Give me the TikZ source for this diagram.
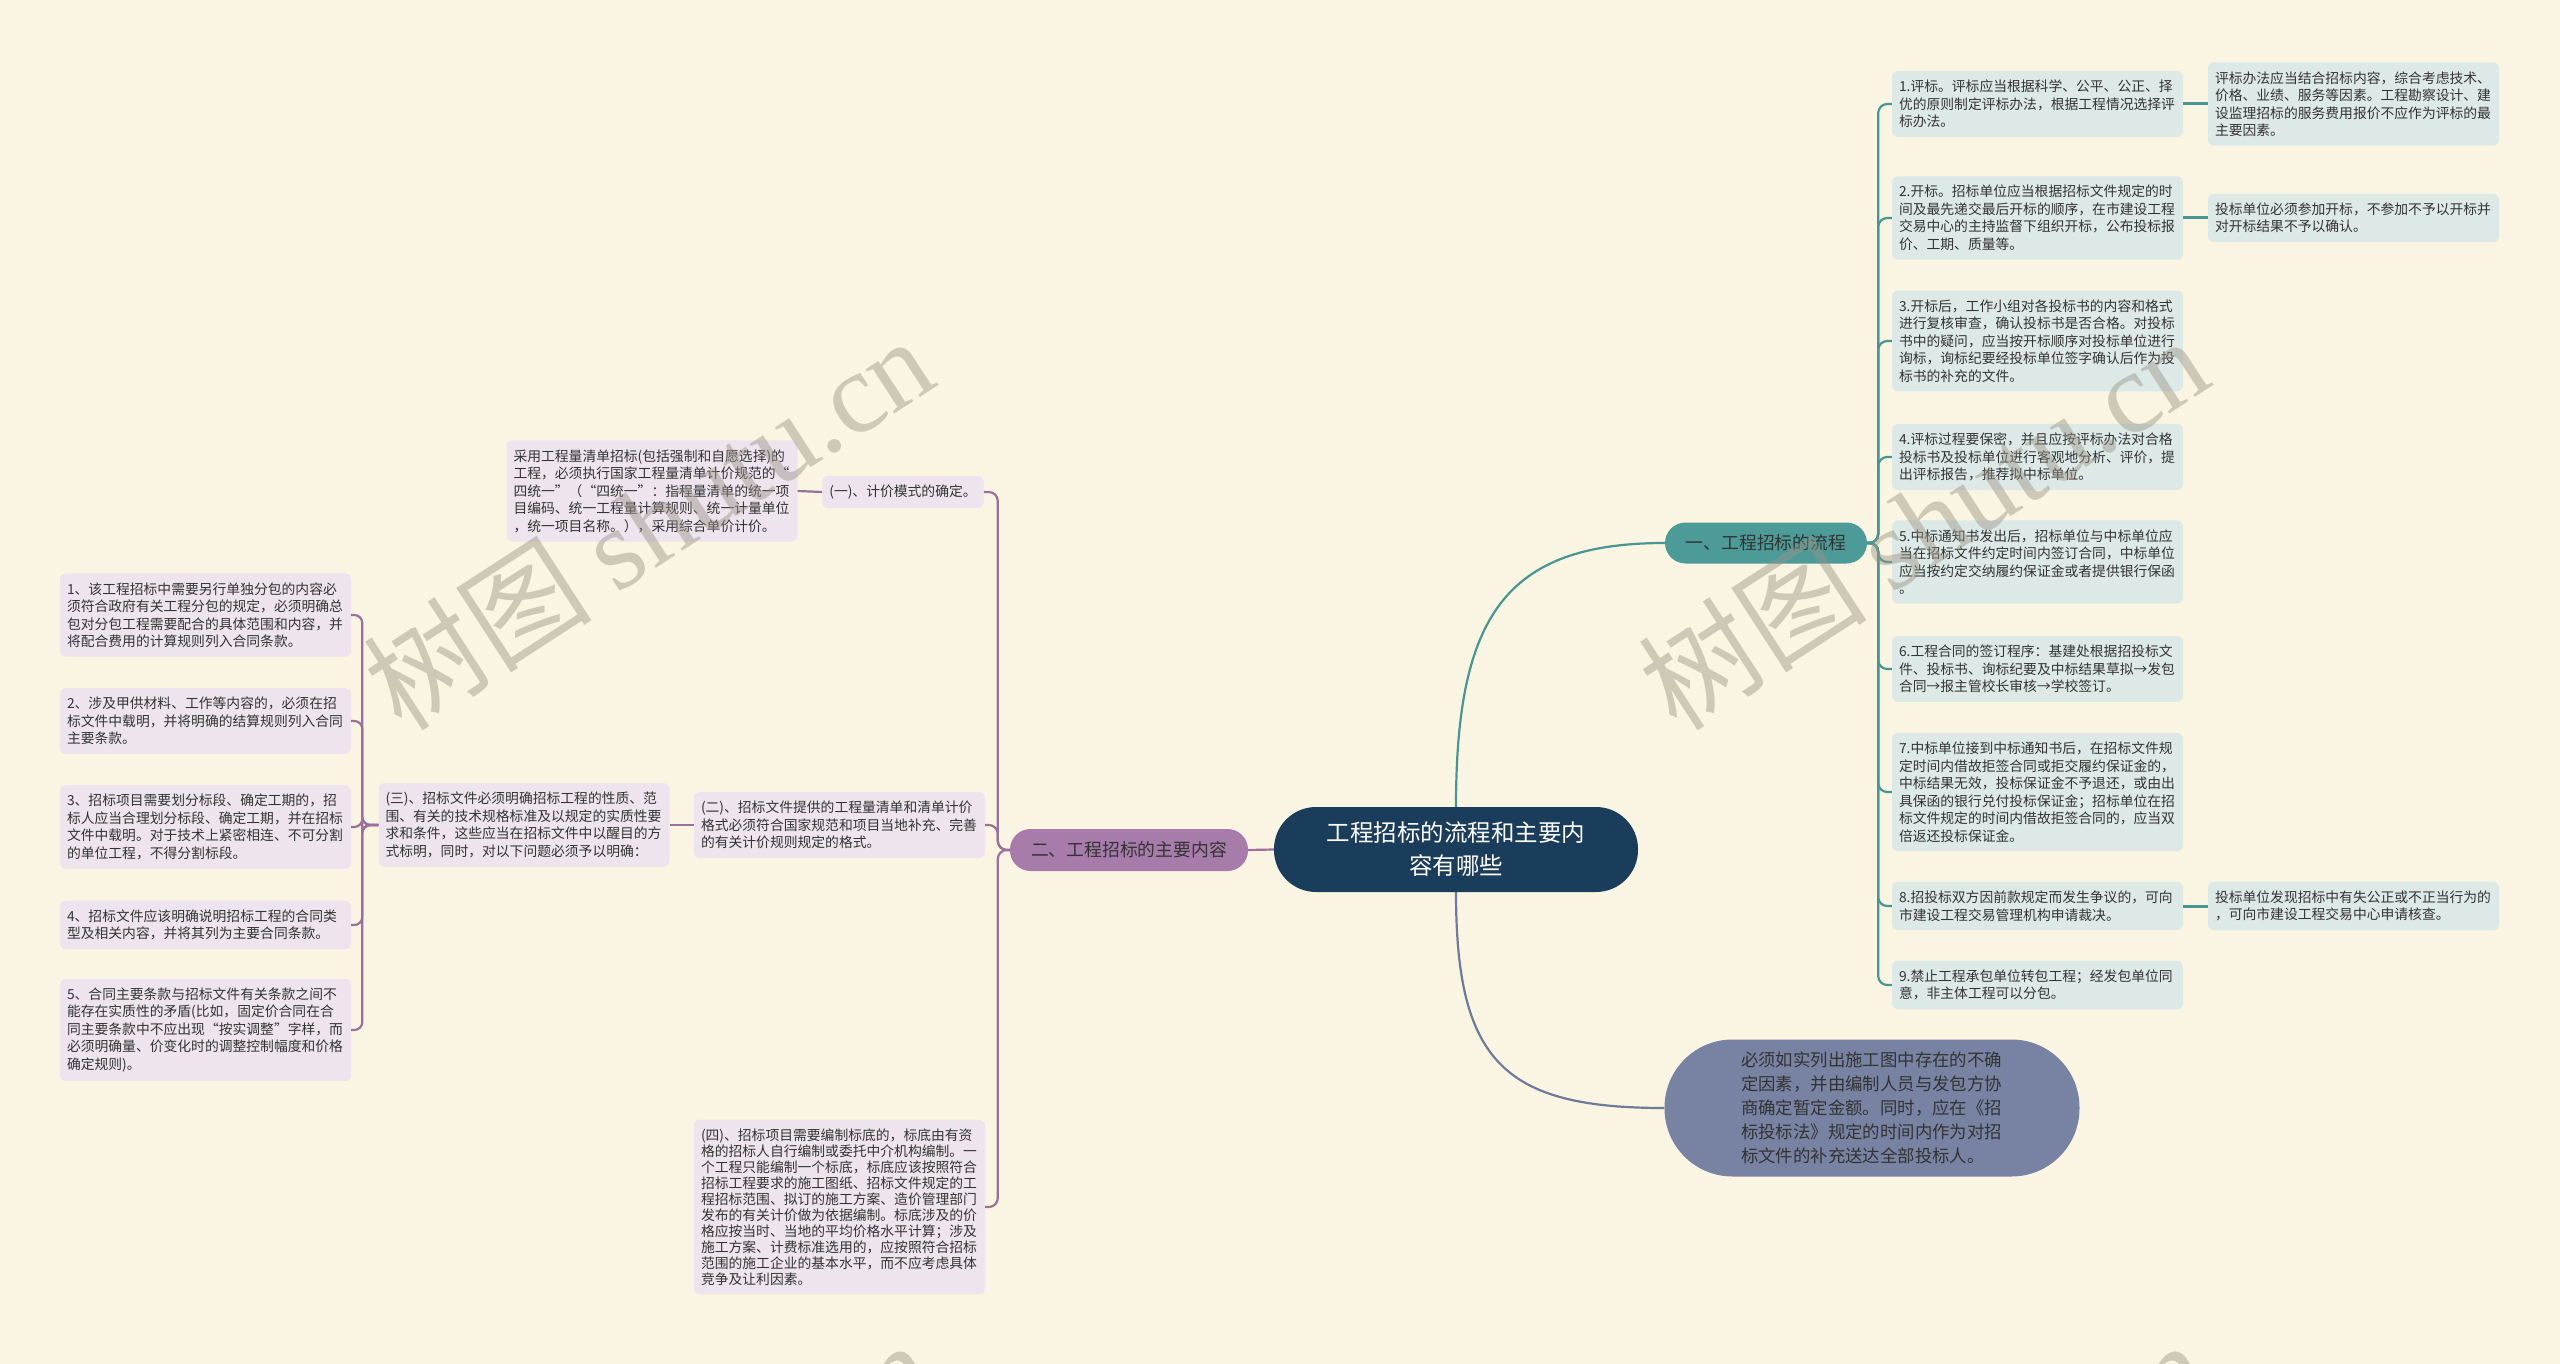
\documentclass[tikz,border=0pt]{standalone}
\usepackage{fontspec}
\newfontfamily\cjk{Noto Sans CJK SC}
\newfontfamily\wmserif{Liberation Serif}
\usetikzlibrary{calc}
\definecolor{bgc}{RGB}{250,245,226}
\definecolor{rootc}{RGB}{27,61,92}
\definecolor{tealc}{RGB}{76,155,152}
\definecolor{purpc}{RGB}{167,123,170}
\definecolor{slatec}{RGB}{120,131,163}
\definecolor{rleafc}{RGB}{221,233,231}
\definecolor{lleafc}{RGB}{237,228,238}
\definecolor{tealln}{RGB}{72,150,147}
\definecolor{purpln}{RGB}{155,112,157}
\definecolor{slateln}{RGB}{110,122,156}
\definecolor{txtc}{RGB}{51,51,51}
\definecolor{wmc}{RGB}{154,147,134}
\begin{document}
\begin{tikzpicture}[x=1pt,y=-1pt,
  rleaf/.style={fill=rleafc, rounded corners=6pt, align=left, text width=277pt,
    inner xsep=7pt, inner ysep=9pt, text=txtc, font=\cjk\fontsize{13.8}{17.5}\selectfont},
  lleaf/.style={rleaf, fill=lleafc},
  lleaftight/.style={lleaf, font=\cjk\fontsize{13.8}{16}\selectfont},
  lshort/.style={fill=lleafc, rounded corners=6pt, inner xsep=7pt, inner ysep=9pt,
    text=txtc, font=\cjk\fontsize{13.8}{17.5}\selectfont},
  rootn/.style={fill=rootc, text=white, rounded corners=42pt, minimum width=364pt,
    minimum height=85pt, align=center, inner sep=0pt, font=\cjk\fontsize{23.5}{33}\selectfont},
  branch/.style={rounded corners=20.5pt, minimum height=41pt, inner sep=0pt, text=txtc,
    font=\cjk\fontsize{17.8}{22}\selectfont},
  bigbranch/.style={fill=slatec, rounded corners=68pt, minimum width=415pt, minimum height=137pt,
    text width=262pt, align=left, inner sep=0pt, text=txtc, font=\cjk\fontsize{17.4}{24}\selectfont},
  tline/.style={draw=tealln, line width=2.2pt},
  pline/.style={draw=purpln, line width=2.2pt},
  sline/.style={draw=slateln, line width=2.2pt},
  wm/.style={rotate=33, text=wmc, text opacity=0.45, font=\cjk\fontsize{115}{115}\selectfont}
]
\useasboundingbox (0,0) rectangle (2560,1364);
\fill[bgc] (0,0) rectangle (2560,1364);

% central and branches
\node[rootn] (root) at (1456,849.5) {工程招标的流程和主要内\\容有哪些};
\node[branch, fill=tealc, minimum width=202pt] (b1) at (1766,543) {一、工程招标的流程};
\node[branch, fill=purpc, minimum width=238pt, minimum height=42pt] (b2) at (1129,850) {二、工程招标的主要内容};
\node[bigbranch] (b3) at (1872,1108) {必须如实列出施工图中存在的不确\\定因素，并由编制人员与发包方协\\商确定暂定金额。同时，应在《招\\标投标法》规定的时间内作为对招\\标文件的补充送达全部投标人。};

% right leaves
\node[rleaf] (L1) at (2037.5,104) {1.评标。评标应当根据科学、公平、公正、择\\优的原则制定评标办法，根据工程情况选择评\\标办法。};
\node[rleaf] (R1) at (2353.5,104) {评标办法应当结合招标内容，综合考虑技术、\\价格、业绩、服务等因素。工程勘察设计、建\\设监理招标的服务费用报价不应作为评标的最\\主要因素。};
\node[rleaf] (L2) at (2037.5,218) {2.开标。招标单位应当根据招标文件规定的时\\间及最先递交最后开标的顺序，在市建设工程\\交易中心的主持监督下组织开标，公布投标报\\价、工期、质量等。};
\node[rleaf] (R2) at (2353.5,218) {投标单位必须参加开标，不参加不予以开标并\\对开标结果不予以确认。};
\node[rleaf] (L3) at (2037.5,341) {3.开标后，工作小组对各投标书的内容和格式\\进行复核审查，确认投标书是否合格。对投标\\书中的疑问，应当按开标顺序对投标单位进行\\询标，询标纪要经投标单位签字确认后作为投\\标书的补充的文件。};
\node[rleaf] (L4) at (2037.5,457) {4.评标过程要保密，并且应按评标办法对合格\\投标书及投标单位进行客观地分析、评价，提\\出评标报告，推荐拟中标单位。};
\node[rleaf] (L5) at (2037.5,562) {5.中标通知书发出后，招标单位与中标单位应\\当在招标文件约定时间内签订合同，中标单位\\应当按约定交纳履约保证金或者提供银行保函\\。};
\node[rleaf] (L6) at (2037.5,669) {6.工程合同的签订程序：基建处根据招投标文\\件、投标书、询标纪要及中标结果草拟→发包\\合同→报主管校长审核→学校签订。};
\node[rleaf] (L7) at (2037.5,792) {7.中标单位接到中标通知书后，在招标文件规\\定时间内借故拒签合同或拒交履约保证金的，\\中标结果无效，投标保证金不予退还，或由出\\具保函的银行兑付投标保证金；招标单位在招\\标文件规定的时间内借故拒签合同的，应当双\\倍返还投标保证金。};
\node[rleaf] (L8) at (2037.5,906) {8.招投标双方因前款规定而发生争议的，可向\\市建设工程交易管理机构申请裁决。};
\node[rleaf] (R8) at (2353.5,906) {投标单位发现招标中有失公正或不正当行为的\\，可向市建设工程交易中心申请核查。};
\node[rleaf] (L9) at (2037.5,985) {9.禁止工程承包单位转包工程；经发包单位同\\意，非主体工程可以分包。};

% left leaves
\node[lleaf] (P1) at (652,491) {采用工程量清单招标(包括强制和自愿选择)的\\工程，必须执行国家工程量清单计价规范的“\\四统一”（“四统一”：指程量清单的统一项\\目编码、统一工程量计算规则、统一计量单位\\，统一项目名称。），采用综合单价计价。};
\node[lshort] (Y1) at (903,492) {(一)、计价模式的确定。};
\node[lleaf] (Y2) at (839.5,825) {(二)、招标文件提供的工程量清单和清单计价\\格式必须符合国家规范和项目当地补充、完善\\的有关计价规则规定的格式。};
\node[lleaf] (Y3) at (524,825) {(三)、招标文件必须明确招标工程的性质、范\\围、有关的技术规格标准及以规定的实质性要\\求和条件，这些应当在招标文件中以醒目的方\\式标明，同时，对以下问题必须予以明确：};
\node[lleaftight] (Y4) at (839.5,1207) {(四)、招标项目需要编制标底的，标底由有资\\格的招标人自行编制或委托中介机构编制。一\\个工程只能编制一个标底，标底应该按照符合\\招标工程要求的施工图纸、招标文件规定的工\\程招标范围、拟订的施工方案、造价管理部门\\发布的有关计价做为依据编制。标底涉及的价\\格应按当时、当地的平均价格水平计算；涉及\\施工方案、计费标准选用的，应按照符合招标\\范围的施工企业的基本水平，而不应考虑具体\\竞争及让利因素。};
\node[lleaf] (Q1) at (205.5,615) {1、该工程招标中需要另行单独分包的内容必\\须符合政府有关工程分包的规定，必须明确总\\包对分包工程需要配合的具体范围和内容，并\\将配合费用的计算规则列入合同条款。};
\node[lleaf] (Q2) at (205.5,721) {2、涉及甲供材料、工作等内容的，必须在招\\标文件中载明，并将明确的结算规则列入合同\\主要条款。};
\node[lleaf] (Q3) at (205.5,827) {3、招标项目需要划分标段、确定工期的，招\\标人应当合理划分标段、确定工期，并在招标\\文件中载明。对于技术上紧密相连、不可分割\\的单位工程，不得分割标段。};
\node[lleaf] (Q4) at (205.5,925) {4、招标文件应该明确说明招标工程的合同类\\型及相关内容，并将其列为主要合同条款。};
\node[lleaf] (Q5) at (205.5,1030) {5、合同主要条款与招标文件有关条款之间不\\能存在实质性的矛盾(比如，固定价合同在合\\同主要条款中不应出现“按实调整”字样，而\\必须明确量、价变化时的调整控制幅度和价格\\确定规则)。};

% connectors: root to branches
\draw[tline] (root.north) .. controls ($(root.north)+(0,-190)$) and ($(b1.west)+(-160,0)$) .. (b1.west);
\draw[pline] (root.west) -- (b2.east);
\draw[sline] (root.south) .. controls ($(root.south)+(0,170)$) and ($(b3.west)+(-160,0)$) .. (b3.west);

% teal branch
\foreach \n in {L1,L2,L3,L4,L5,L6,L7,L8,L9}
  \draw[tline, rounded corners=9pt] (b1.east) -- ++(11,0) |- (\n.west);
\draw[tline, line width=3pt] (L1.east) -- (R1.west);
\draw[tline, line width=3pt] (L2.east) -- (R2.west);
\draw[tline, line width=3pt] (L8.east) -- (R8.west);

% purple branch
\foreach \n in {Y1,Y2,Y4}
  \draw[pline, rounded corners=9pt] (b2.west) -- ++(-12,0) |- (\n.east);
\draw[pline] (Y1.west) -- (P1.east);
\draw[pline] (Y2.west) -- (Y3.east);
\foreach \n in {Q1,Q2,Q3,Q4,Q5}
  \draw[pline, rounded corners=8pt] (Y3.west) -- ++(-16,0) |- (\n.east);

% watermarks
\begin{scope}
\clip (0,0) rectangle (2560,1364);
\node[wm] (wm1) at (648,522) {树图 {\wmserif shutu.cn}};
\node[wm] (wm2) at (1923,522) {树图 {\wmserif shutu.cn}};
\node[wm] (wm3) at (648,1526) {树图 {\wmserif shutu.cn}};
\node[wm] (wm4) at (1923,1526) {树图 {\wmserif shutu.cn}};
\end{scope}
\end{tikzpicture}
\end{document}
